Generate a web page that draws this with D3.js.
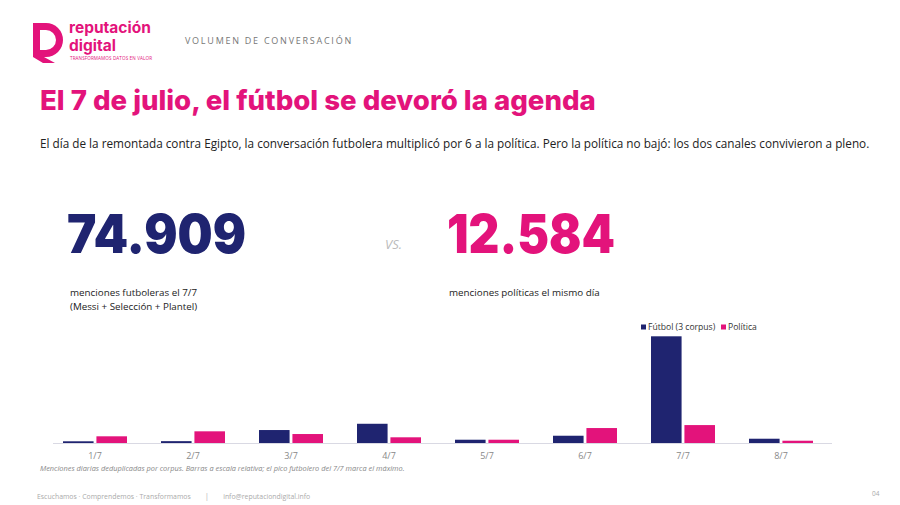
<!DOCTYPE html>
<html>
<head>
<meta charset="utf-8">
<script src="https://cdn.jsdelivr.net/npm/d3@7"></script>
<style>
  body { margin: 0; background: #fff; }
  svg { display: block; font-family: 'Open Sans', sans-serif; }
</style>
</head>
<body>
<div id="vis"></div>
<script>
// data
const days = ['1/7', '2/7', '3/7', '4/7', '5/7', '6/7', '7/7', '8/7']
const futbol   = [1200, 1300, 9100, 13500, 2300, 5100, 74909, 3000]
const politica = [4700, 8200, 6300, 4000, 2300, 10500, 12584, 1600]
const series = ['Fútbol (3 corpus)', 'Política']
const colors = ['#1f2470', '#e3137b']

const W = 900, H = 505
const svg = d3.select('#vis').append('svg')
    .attr('width', W).attr('height', H)

// logo
const logo = svg.append('g')
logo.append('path')
    .attr('d', 'M33,23 H46 A17,17 0 0 1 46,57 H44 L55,63 H43 L33,57 Z M40,30 V50 H46 A10,10 0 0 0 46,30 Z')
    .attr('fill', '#e3137b')
    .attr('fill-rule', 'evenodd')
logo.append('text').attr('x', 69).attr('y', 33)
    .text('reputación')
    .style('font-family', 'Inter').style('font-weight', 700)
    .style('font-size', '15.5px').attr('fill', '#e3137b')
logo.append('text').attr('x', 69).attr('y', 51)
    .text('digital')
    .style('font-family', 'Inter').style('font-weight', 700)
    .style('font-size', '15.5px').attr('fill', '#e3137b')
logo.append('text').attr('x', 70).attr('y', 60)
    .text('TRANSFORMAMOS DATOS EN VALOR')
    .attr('textLength', 82)
    .style('font-size', '4.6px').attr('fill', '#e3137b')

svg.append('text').attr('x', 185).attr('y', 44)
    .text('VOLUMEN DE CONVERSACIÓN')
    .style('font-size', '9px').style('letter-spacing', '1.75px')
    .attr('fill', '#777')

// title and subtitle
svg.append('text').attr('x', 40).attr('y', 110)
    .text('El 7 de julio, el fútbol se devoró la agenda')
    .style('font-family', 'Inter').style('font-weight', 800)
    .style('font-size', '27.6px').attr('fill', '#e3137b')

svg.append('text').attr('x', 40).attr('y', 148)
    .text('El día de la remontada contra Egipto, la conversación futbolera multiplicó por 6 a la política. Pero la política no bajó: los dos canales convivieron a pleno.')
    .style('font-size', '11.75px').attr('fill', '#222')

// big numbers
svg.append('text').attr('x', 67).attr('y', 253)
    .text('74.909')
    .attr('textLength', 179).attr('lengthAdjust', 'spacingAndGlyphs')
    .style('font-family', 'Inter').style('font-weight', 900)
    .style('font-size', '53px').attr('fill', colors[0])
svg.append('text').attr('x', 385).attr('y', 249)
    .text('VS.')
    .style('font-style', 'italic').style('font-size', '13px').attr('fill', '#bbb')
svg.append('text').attr('x', 447).attr('y', 253)
    .text('12.584')
    .attr('textLength', 168).attr('lengthAdjust', 'spacingAndGlyphs')
    .style('font-family', 'Inter').style('font-weight', 900)
    .style('font-size', '53px').attr('fill', colors[1])

svg.append('text').attr('x', 70).attr('y', 296)
    .text('menciones futboleras el 7/7')
    .style('font-size', '9.8px').attr('fill', '#222')
svg.append('text').attr('x', 70).attr('y', 310)
    .text('(Messi + Selección + Plantel)')
    .style('font-size', '9.8px').attr('fill', '#222')
svg.append('text').attr('x', 449).attr('y', 296)
    .text('menciones políticas el mismo día')
    .style('font-size', '9.8px').attr('fill', '#222')

// bar chart
const x0 = d3.scaleBand()
    .domain(days)
    .range([46, 830])
    .paddingInner(0.347)
    .paddingOuter(0.1735)
const x1 = d3.scaleBand()
    .domain(series)
    .range([0, x0.bandwidth()])
    .paddingInner(0.085)
const y = d3.scaleLinear()
    .domain([0, d3.max(futbol)])
    .range([443, 336.3])

const rows = days.map((d, i) => ({ day: d, values: [futbol[i], politica[i]] }))

const groups = svg.selectAll('.grp')
    .data(rows)
    .join('g')
    .attr('class', 'grp')
    .attr('transform', d => `translate(${x0(d.day)},0)`)

groups.selectAll('rect')
    .data(d => d.values.map((v, j) => ({ key: series[j], v: v, c: colors[j] })))
    .join('rect')
    .attr('x', d => x1(d.key))
    .attr('width', x1.bandwidth())
    .attr('y', d => y(d.v))
    .attr('height', d => y(0) - y(d.v))
    .attr('fill', d => d.c)

const xAxis = svg.append('g')
    .attr('transform', `translate(0,${y(0)})`)
    .call(d3.axisBottom(x0).tickSize(0).tickPadding(10))
xAxis.select('.domain').attr('stroke', '#d9d9e3').attr('d', 'M53,0.5H832')
xAxis.selectAll('text')
    .style('font-size', '9px')
    .style('font-family', "'Open Sans', sans-serif")
    .attr('fill', '#888')

// legend
const legend = svg.append('g').attr('transform', 'translate(641,327)')
const legX = [0, 80]
series.forEach((s, i) => {
    legend.append('rect').attr('x', legX[i]).attr('y', -2.5)
        .attr('width', 5).attr('height', 5).attr('fill', colors[i])
    legend.append('text').attr('x', legX[i] + 7).attr('y', 3)
        .text(s).style('font-size', '8.6px').attr('fill', '#333')
})

svg.append('text').attr('x', 40).attr('y', 471)
    .text('Menciones diarias deduplicadas por corpus. Barras a escala relativa; el pico futbolero del 7/7 marca el máximo.')
    .style('font-size', '7.4px').style('font-style', 'italic').attr('fill', '#888')

// footer
svg.append('text').attr('x', 37).attr('y', 499)
    .text('Escuchamos · Comprendemos · Transformamos        |        info@reputaciondigital.info')
    .style('font-size', '6.9px').style('white-space', 'pre').attr('fill', '#aaa')
svg.append('text').attr('x', 872).attr('y', 496)
    .text('04')
    .style('font-size', '6.5px').attr('fill', '#aaa')
</script>
</body>
</html>
